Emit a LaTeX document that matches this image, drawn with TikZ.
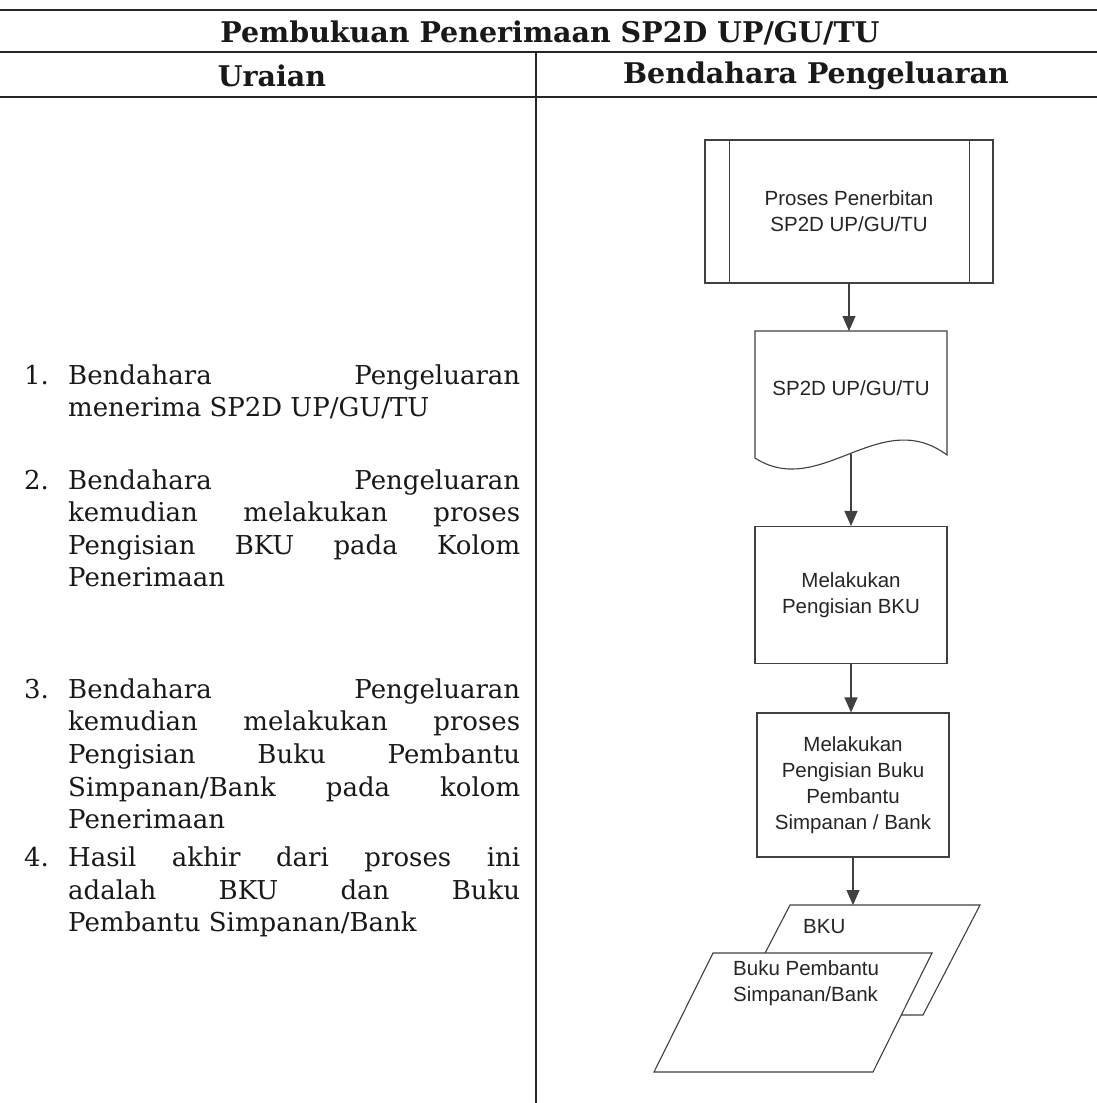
\documentclass[tikz,border=0pt]{standalone}
\usepackage{fontspec}
\setmainfont{DejaVu Serif}
\newfontfamily\flowfont{Liberation Sans}
\usetikzlibrary{arrows.meta,calc}

% one line of the description column, set on a common baseline
\newcommand\bodyline[3]{\node[bodytext] (#1) at (68,#2) {#3};}
\newcommand\numline[3]{\node[bodytext] (#1) at (24,#2) {#3};}
\newcommand\fullline[1]{\makebox[452pt][s]{#1}}

\begin{document}
\begin{tikzpicture}[x=1pt,y=-1pt,
  rule/.style={line width=1.8pt, draw=black!85},
  divider/.style={line width=1.5pt, draw=black!85},
  shapeline/.style={draw=black!75, line width=1.1pt},
  flowtext/.style={font=\flowfont\fontsize{20.5}{26}\selectfont, text=black!85, align=center, inner sep=0pt},
  flowbox/.style={shapeline, fill=white, flowtext},
  bodytext/.style={font=\fontsize{26}{32}\selectfont, anchor=base west, inner sep=0pt, text=black!90},
  headtext/.style={font=\bfseries\fontsize{28.5}{32}\selectfont, inner sep=0pt, text=black!90},
  flow/.style={shapeline, -{Triangle[length=15pt,width=13pt]}}]

\useasboundingbox (0,0) rectangle (1097,1103);
\fill[white] (0,0) rectangle (1097,1103);

% table frame
\draw[rule] (0,10) -- (1097,10);
\draw[rule] (0,52) -- (1097,52);
\draw[rule] (0,97) -- (1097,97);
\draw[divider] (536,52) -- (536,1103);

% headings
\node[headtext] (title) at (550,33) {Pembukuan Penerimaan SP2D UP/GU/TU};
\node[headtext] (hleft) at (272,76) {Uraian};
\node[headtext] (hright) at (816,76) {Bendahara Pengeluaran};

% description column
\numline{n1}{384}{1.}
\bodyline{l1a}{384}{\fullline{Bendahara Pengeluaran}}
\bodyline{l1b}{416}{menerima SP2D UP/GU/TU}

\numline{n2}{489}{2.}
\bodyline{l2a}{489}{\fullline{Bendahara Pengeluaran}}
\bodyline{l2b}{521}{\fullline{kemudian melakukan proses}}
\bodyline{l2c}{554}{\fullline{Pengisian BKU pada Kolom}}
\bodyline{l2d}{586}{Penerimaan}

\numline{n3}{698}{3.}
\bodyline{l3a}{698}{\fullline{Bendahara Pengeluaran}}
\bodyline{l3b}{730}{\fullline{kemudian melakukan proses}}
\bodyline{l3c}{763}{\fullline{Pengisian Buku Pembantu}}
\bodyline{l3d}{796}{\fullline{Simpanan/Bank pada kolom}}
\bodyline{l3e}{828}{Penerimaan}

\numline{n4}{866}{4.}
\bodyline{l4a}{866}{\fullline{Hasil akhir dari proses ini}}
\bodyline{l4b}{899}{\fullline{adalah BKU dan Buku}}
\bodyline{l4c}{931}{Pembantu Simpanan/Bank}

% predefined process
\node[flowbox, minimum width=288pt, minimum height=143pt] (p1) at (849,211.5)
  {Proses Penerbitan\\SP2D UP/GU/TU};
\draw[shapeline] ($(p1.north west)+(25,0)$) -- ($(p1.south west)+(25,0)$);
\draw[shapeline] ($(p1.north east)+(-24,0)$) -- ($(p1.south east)+(-24,0)$);

% document
\draw[shapeline, fill=white] (755,331) -- (947,331) -- (947,455)
  .. controls (880,405) and (820,500) .. (755,458) -- cycle;
\node[flowtext] (doc) at (851,388) {SP2D UP/GU/TU};
\coordinate (doctop) at (849,331);
\coordinate (docbot) at (851,453.5);

% processes
\node[flowbox, minimum width=192pt, minimum height=137pt] (b3) at (851,595)
  {Melakukan\\Pengisian BKU};
\node[flowbox, minimum width=192pt, minimum height=144pt] (b4) at (853,785)
  {Melakukan\\Pengisian Buku\\Pembantu\\Simpanan / Bank};

% output records
\draw[shapeline, fill=white] (790,905) -- (980,905) -- (923,1015) -- (733,1015) -- cycle;
\coordinate (bkutop) at (853,905);
\node[flowtext, anchor=west] (bku) at (803,927) {BKU};
\draw[shapeline, fill=white] (713,953) -- (932,953) -- (873,1072) -- (654,1072) -- cycle;
\node[flowtext, anchor=north west, align=left] (bpsb) at (733,960)
  {Buku Pembantu\\Simpanan/Bank};

% connectors
\draw[flow] (p1.south) -- (doctop);
\draw[flow] (docbot) -- (b3.north);
\draw[flow] (b3.south) -- (b3.south |- b4.north);
\draw[flow] (b4.south) -- (bkutop);

\end{tikzpicture}
\end{document}
